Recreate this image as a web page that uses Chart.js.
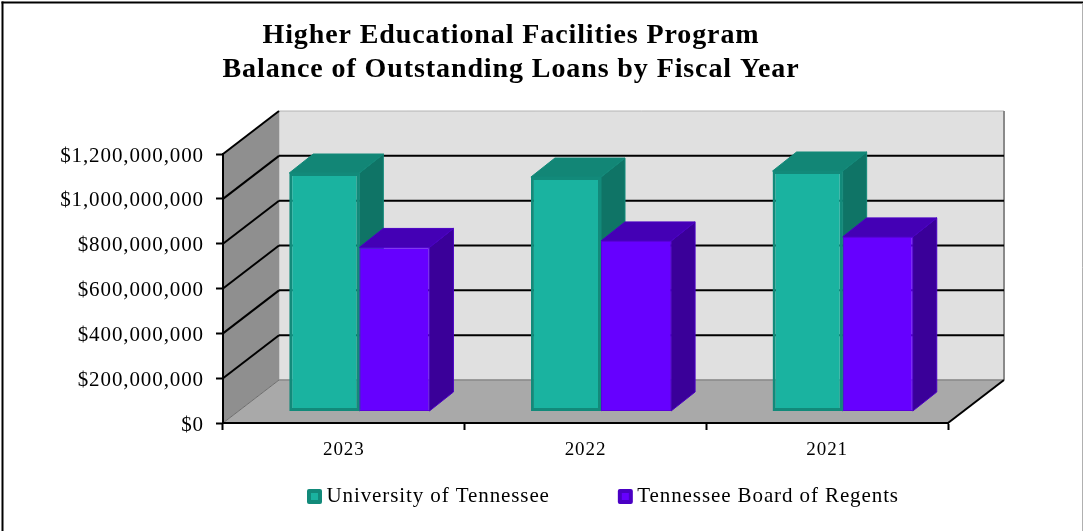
<!DOCTYPE html>
<html>
<head>
<meta charset="utf-8">
<title>Higher Educational Facilities Program</title>
<script src="https://cdn.jsdelivr.net/npm/chart.js@4/dist/chart.umd.min.js"></script>
<style>
  html, body { margin: 0; padding: 0; background: #fff; }
  canvas { display: block; }
</style>
</head>
<body>
<canvas id="chart" width="1083" height="531"></canvas>
<script>
const years = ["2023", "2022", "2021"];
const utValues = [1064000000, 1046000000, 1073000000];
const tbrValues = [732000000, 761000000, 779000000];
const titleLines = ["Higher Educational Facilities Program", "Balance of Outstanding Loans by Fiscal Year"];

// depth of the fake 3d box
const wallDx = 56, wallDy = -43;
const barShiftX = 15.5, barShiftY = -11.5;
const barDx = 24, barDy = -19;

function poly(ctx, pts, fill, stroke) {
    ctx.beginPath();
    pts.forEach((p, i) => i ? ctx.lineTo(p[0], p[1]) : ctx.moveTo(p[0], p[1]));
    ctx.closePath();
    ctx.fillStyle = fill;
    ctx.fill();
    if (stroke) {
        ctx.strokeStyle = stroke;
        ctx.lineWidth = 1;
        ctx.stroke();
    }
}

function line(ctx, x0, y0, x1, y1, color, width) {
    ctx.beginPath();
    ctx.moveTo(x0, y0);
    ctx.lineTo(x1, y1);
    ctx.strokeStyle = color;
    ctx.lineWidth = width;
    ctx.stroke();
}

const box3d = {
    id: "box3d",
    beforeLayout(chart) {
        chart.ctx.letterSpacing = "0.9px";
    },
    afterLayout(chart) {
        // title and legend do not sit centred in the reference
        chart.titleBlock.left = 0;
        chart.titleBlock.right = 1022;
        chart.legend.left = 239;
        chart.legend.right = chart.width;
        chart.legend.top = 418;
    },
    beforeDraw(chart) {
        const ctx = chart.ctx, a = chart.chartArea, y = chart.scales.y;
        const b = a.bottom, t = a.top, l = a.left, r = a.right;
        ctx.letterSpacing = "0.9px";
        ctx.save();
        ctx.fillStyle = "#fff";
        ctx.fillRect(0, 0, chart.width, chart.height);
        poly(ctx, [[l + wallDx, t + wallDy], [r + wallDx, t + wallDy], [r + wallDx, b + wallDy], [l + wallDx, b + wallDy]], "#e0e0e0", "#b5b5b5");
        poly(ctx, [[l, t], [l + wallDx, t + wallDy], [l + wallDx, b + wallDy], [l, b]], "#8f8f8f");
        poly(ctx, [[l, b], [l + wallDx, b + wallDy], [r + wallDx, b + wallDy], [r, b]], "#a9a9a9");
        line(ctx, r + wallDx, t + wallDy, r + wallDx, b + wallDy, "#8a8a8a", 2);
        line(ctx, l + wallDx, b + wallDy, r + wallDx, b + wallDy, "#8a8a8a", 1.5);
        y.ticks.forEach(tick => {
            const py = y.getPixelForValue(tick.value);
            if (tick.value === 0) {
                line(ctx, l, py, l + wallDx, py + wallDy, "#6e6e6e", 1);
                return;
            }
            line(ctx, l, py, l + wallDx, py + wallDy, "#000", 2);
            if (tick.value < y.max) line(ctx, l + wallDx, py + wallDy, r + wallDx, py + wallDy, "#000", 2);
        });
        line(ctx, r, b, r + wallDx, b + wallDy, "#000", 2);
        // outer frame
        line(ctx, 2.5, 1.5, 2.5, chart.height, "#000", 2);
        line(ctx, 1.5, 2.5, chart.width, 2.5, "#000", 2);
        line(ctx, chart.width - 0.5, 3.5, chart.width - 0.5, chart.height, "#b0b0b0", 1);
        ctx.restore();
    },
    beforeDatasetsDraw(chart) {
        const ctx = chart.ctx;
        ctx.save();
        ctx.translate(barShiftX, barShiftY);
        // side and top faces first, left series under the right one
        chart.data.datasets.forEach((ds, i) => {
            chart.getDatasetMeta(i).data.forEach(bar => {
                const p = bar.getProps(["x", "y", "base", "width"], true);
                const x0 = p.x - p.width / 2, x1 = p.x + p.width / 2;
                poly(ctx, [[x1, p.y], [x1 + barDx, p.y + barDy], [x1 + barDx, p.base + barDy], [x1, p.base]], ds.sideColor, ds.edgeColor);
                poly(ctx, [[x0, p.y], [x0 + barDx, p.y + barDy], [x1 + barDx, p.y + barDy], [x1, p.y]], ds.topColor, ds.edgeColor);
            });
        });
    },
    afterDatasetsDraw(chart) {
        chart.ctx.restore();
    },
    afterDraw(chart) {
        // legend swatches, tighter to the text than Chart.js puts them
        const ctx = chart.ctx;
        chart.legend.legendHitBoxes.forEach((hit, i) => {
            const ds = chart.data.datasets[i];
            ctx.save();
            ctx.beginPath();
            ctx.roundRect(hit.left, hit.top + 3, 15, 15, 2);
            ctx.fillStyle = ds.edgeColor;
            ctx.fill();
            ctx.beginPath();
            ctx.rect(hit.left + 4, hit.top + 7, 7, 7);
            ctx.fillStyle = ds.backgroundColor;
            ctx.fill();
            ctx.restore();
        });
    }
};

new Chart(document.getElementById("chart"), {
    type: "bar",
    data: {
        labels: years,
        datasets: [
            {
                label: "University of Tennessee",
                data: utValues,
                backgroundColor: "#1ab3a0",
                borderColor: "#128a7a",
                borderWidth: 3,
                borderSkipped: false,
                sideColor: "#0f7466",
                topColor: "#128676",
                edgeColor: "#128a7a",
                clip: false
            },
            {
                label: "Tennessee Board of Regents",
                data: tbrValues,
                backgroundColor: "#6600ff",
                borderColor: "#5a00dd",
                borderWidth: 1,
                borderSkipped: false,
                sideColor: "#3a0099",
                topColor: "#4400b5",
                edgeColor: "#4a00c4",
                clip: false
            }
        ]
    },
    options: {
        responsive: false,
        animation: false,
        devicePixelRatio: 1,
        categoryPercentage: 0.58,
        barPercentage: 1,
        layout: { padding: { top: 0, right: 135, bottom: 0, left: 0 } },
        plugins: {
            tooltip: { enabled: false },
            title: {
                display: true,
                text: titleLines,
                color: "#000",
                font: { family: "'Liberation Serif'", size: 28, weight: "bold", lineHeight: 1.22 },
                padding: { top: 19, bottom: 66.7 }
            },
            legend: {
                position: "bottom",
                align: "start",
                maxHeight: 50,
                labels: {
                    boxWidth: 9,
                    boxHeight: 1,
                    padding: 68,
                    color: "#000",
                    font: { family: "'Liberation Serif'", size: 21 },
                    generateLabels(chart) {
                        return chart.data.datasets.map((ds, i) => ({
                            text: ds.label,
                            datasetIndex: i,
                            fillStyle: "rgba(0,0,0,0)",
                            strokeStyle: "rgba(0,0,0,0)",
                            lineWidth: 0,
                            fontColor: "#000"
                        }));
                    }
                }
            }
        },
        scales: {
            x: {
                afterFit(scale) { scale.height = 58; },
                border: { color: "#000", width: 2 },
                grid: { drawOnChartArea: false, tickColor: "#000", tickLength: 7, tickWidth: 2 },
                ticks: { color: "#000", padding: 9, font: { family: "'Liberation Serif'", size: 19 } }
            },
            y: {
                min: 0,
                max: 1200000000,
                afterFit(scale) { scale.width = 223; },
                border: { color: "#000", width: 2 },
                grid: { drawOnChartArea: false, tickColor: "#000", tickLength: 7, tickWidth: 2 },
                ticks: {
                    stepSize: 200000000,
                    color: "#000",
                    padding: 12,
                    labelOffset: 2,
                    font: { family: "'Liberation Serif'", size: 21 },
                    callback: v => "$" + v.toLocaleString("en-US")
                }
            }
        }
    },
    plugins: [box3d]
});
</script>
</body>
</html>
